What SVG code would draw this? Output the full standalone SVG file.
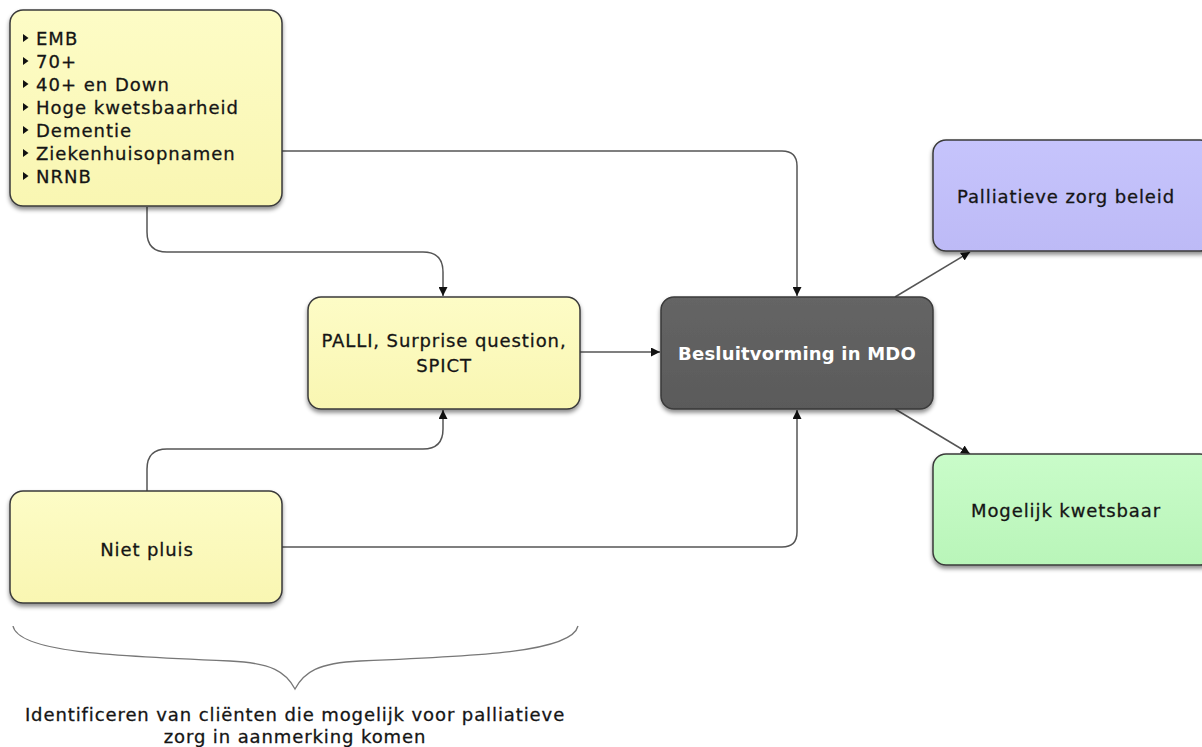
<svg xmlns="http://www.w3.org/2000/svg" width="1202" height="747" viewBox="0 0 1202 747">
<defs>
<filter id="sh" x="-10%" y="-10%" width="120%" height="130%">
<feDropShadow dx="0" dy="3" stdDeviation="2" flood-color="#000" flood-opacity="0.45"/>
</filter>
<linearGradient id="gy" x1="0" y1="0" x2="0" y2="1">
<stop offset="0" stop-color="#fdfcc6"/><stop offset="1" stop-color="#f9f6b2"/>
</linearGradient>
<linearGradient id="gb" x1="0" y1="0" x2="0" y2="1">
<stop offset="0" stop-color="#c6c4fc"/><stop offset="1" stop-color="#bdbaf6"/>
</linearGradient>
<linearGradient id="gg" x1="0" y1="0" x2="0" y2="1">
<stop offset="0" stop-color="#c9fcc9"/><stop offset="1" stop-color="#b9f5b9"/>
</linearGradient>
<linearGradient id="gd" x1="0" y1="0" x2="0" y2="1">
<stop offset="0" stop-color="#656565"/><stop offset="1" stop-color="#5a5a5a"/>
</linearGradient>
<marker id="ah" viewBox="0 0 10 10" refX="10" refY="5" markerWidth="9" markerHeight="9" markerUnits="userSpaceOnUse" orient="auto">
<path d="M0,0 L10,5 L0,10 z" fill="#111"/>
</marker>
<style>
.box{stroke:#3a3a3a;stroke-width:1.5;filter:url(#sh)}
.t{font-family:"DejaVu Sans",Verdana,sans-serif;font-size:18px;letter-spacing:0.9px;fill:#151515;stroke:#151515;stroke-width:0.3}
.c{text-anchor:middle}
.w{fill:#ffffff;stroke:none;font-weight:bold;letter-spacing:0.2px}
.li{letter-spacing:1px}
.ln{fill:none;stroke:#555;stroke-width:1.5}
.arr{marker-end:url(#ah)}
.bul{fill:#111}
</style>
</defs>

<g id="connectors">
<path class="ln arr" d="M282,151 H782 Q797,151 797,166 V296"/>
<path class="ln arr" d="M147,207 V232 Q147,252 167,252 H423 Q443,252 443,272 V296"/>
<path class="ln arr" d="M147,491 V469 Q147,449 167,449 H423 Q443,449 443,429 V410"/>
<path class="ln arr" d="M282,547 H782 Q797,547 797,532 V410"/>
<path class="ln arr" d="M580,352 H660"/>
<path class="ln arr" d="M895,297 L970,252"/>
<path class="ln arr" d="M895,409 L970,454"/>
</g>

<g id="node-criteria">
<rect class="box" x="10" y="10" width="272" height="196" rx="13" fill="url(#gy)"/>
<g class="bul">
<path d="M23,34 l5.5,4 l-5.5,4 z"/>
<path d="M23,57 l5.5,4 l-5.5,4 z"/>
<path d="M23,80 l5.5,4 l-5.5,4 z"/>
<path d="M23,103 l5.5,4 l-5.5,4 z"/>
<path d="M23,126 l5.5,4 l-5.5,4 z"/>
<path d="M23,149 l5.5,4 l-5.5,4 z"/>
<path d="M23,172 l5.5,4 l-5.5,4 z"/>
</g>
<text class="t li" x="36" y="45">EMB</text>
<text class="t li" x="36" y="68">70+</text>
<text class="t li" x="36" y="91">40+ en Down</text>
<text class="t li" x="36" y="114">Hoge kwetsbaarheid</text>
<text class="t li" x="36" y="137">Dementie</text>
<text class="t li" x="36" y="160">Ziekenhuisopnamen</text>
<text class="t li" x="36" y="183">NRNB</text>
</g>

<g id="node-palli">
<rect class="box" x="308" y="297" width="272" height="112" rx="13" fill="url(#gy)"/>
<text class="t c" x="444" y="347">PALLI, Surprise question,</text>
<text class="t c" x="444" y="372">SPICT</text>
</g>

<g id="node-mdo">
<rect class="box" x="661" y="297" width="272" height="112" rx="13" fill="url(#gd)"/>
<text class="t c w" x="797" y="360">Besluitvorming in MDO</text>
</g>

<g id="node-beleid">
<rect class="box" x="933" y="140" width="280" height="111" rx="13" fill="url(#gb)"/>
<text class="t c" x="1066" y="203">Palliatieve zorg beleid</text>
</g>

<g id="node-kwetsbaar">
<rect class="box" x="933" y="454" width="280" height="111" rx="13" fill="url(#gg)"/>
<text class="t c" x="1066" y="517">Mogelijk kwetsbaar</text>
</g>

<g id="node-nietpluis">
<rect class="box" x="10" y="491" width="272" height="112" rx="13" fill="url(#gy)"/>
<text class="t c" x="147" y="556">Niet pluis</text>
</g>

<g id="brace">
<path class="ln" style="stroke:#777;stroke-width:1.3" d="M13,626 C18,652 110,656 230,661 C272,663 286,672 295,689 C304,672 318,663 360,661 C480,656 572,652 578,626"/>
<text class="t c" x="295" y="721">Identificeren van cliënten die mogelijk voor palliatieve</text>
<text class="t c" x="295" y="743">zorg in aanmerking komen</text>
</g>
</svg>
